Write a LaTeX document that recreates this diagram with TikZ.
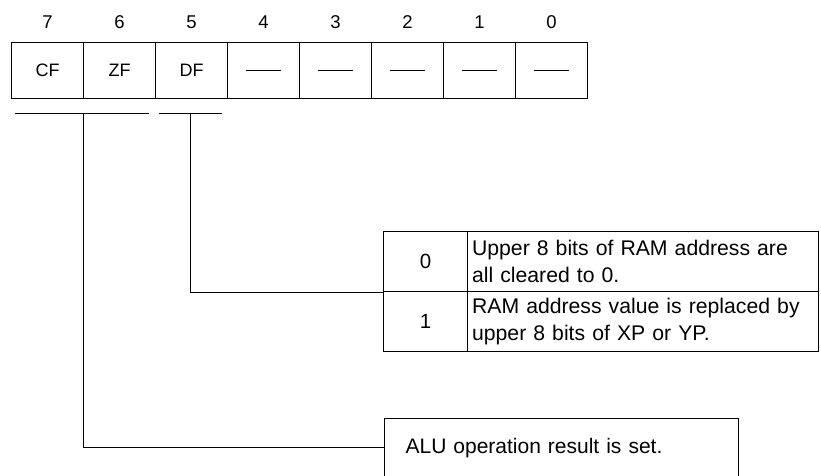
\documentclass[tikz,border=0pt]{standalone}
\usepackage{fontspec}
\setmainfont{Liberation Sans}
\begin{document}
\begin{tikzpicture}[x=1pt,y=-1pt,
  box/.style={draw, line width=1.2pt, inner sep=0pt, anchor=north west},
  regcell/.style={box, minimum width=72pt, minimum height=56.5pt, font=\fontsize{18}{20}\selectfont},
  bitnum/.style={font=\fontsize{18.5}{20}\selectfont},
  keycell/.style={box, minimum width=84pt, minimum height=60pt, font=\fontsize{20.5}{24}\selectfont},
  valcell/.style={box, minimum height=60pt, inner xsep=4.5pt, text width=342pt, align=left, font=\fontsize{21.2}{27.5}\selectfont},
  conn/.style={line width=0.9pt}
]
\useasboundingbox (0,0) rectangle (821,475);
\clip (0,0) rectangle (821,475);

% register cells
\node[regcell] (c7) at (11,41.7) {CF};
\node[regcell] (c6) at (83,41.7) {ZF};
\node[regcell] (c5) at (155,41.7) {DF};
\node[regcell] (c4) at (227,41.7) {\rule{35pt}{1.6pt}};
\node[regcell] (c3) at (299,41.7) {\rule{35pt}{1.6pt}};
\node[regcell] (c2) at (371,41.7) {\rule{35pt}{1.6pt}};
\node[regcell] (c1) at (443,41.7) {\rule{35pt}{1.6pt}};
\node[regcell] (c0) at (515,41.7) {\rule{35pt}{1.6pt}};

% bit numbers
\foreach \i in {0,...,7}{
  \node[bitnum] (n\i) at ([yshift=19.7pt]c\i.north) {\i};
}

% DF table
\node[keycell] (k0) at (383,231) {0};
\node[valcell] (v0) at (467,231) {Upper 8 bits of RAM address are\\all cleared to 0.};
\node[keycell] (k1) at (383,291) {1};
\node[valcell] (v1) at (467,291) {RAM address value is replaced by\\upper 8 bits of XP or YP.};

% ALU box (bottom runs off the picture)
\node[box, minimum width=354pt, minimum height=58pt, inner xsep=21pt, align=left,
      text width=312pt, font=\fontsize{21}{24}\selectfont] (alu) at (384,418)
      {ALU operation result is set.};

% brackets
\coordinate (bA) at (15,113.3);
\coordinate (bB) at (149,113.3);
\coordinate (bC) at (159,113.3);
\coordinate (bD) at (222,113.3);
\coordinate (czf) at (83.3,113.3);
\coordinate (cdf) at (190.7,113.3);
\draw[conn] (bA) -- (bB);
\draw[conn, line width=1.2pt] (bC) -- (bD);
\draw[conn] (czf) |- (alu.west);
\draw[conn] (cdf) |- (k0.south west);
\end{tikzpicture}
\end{document}
